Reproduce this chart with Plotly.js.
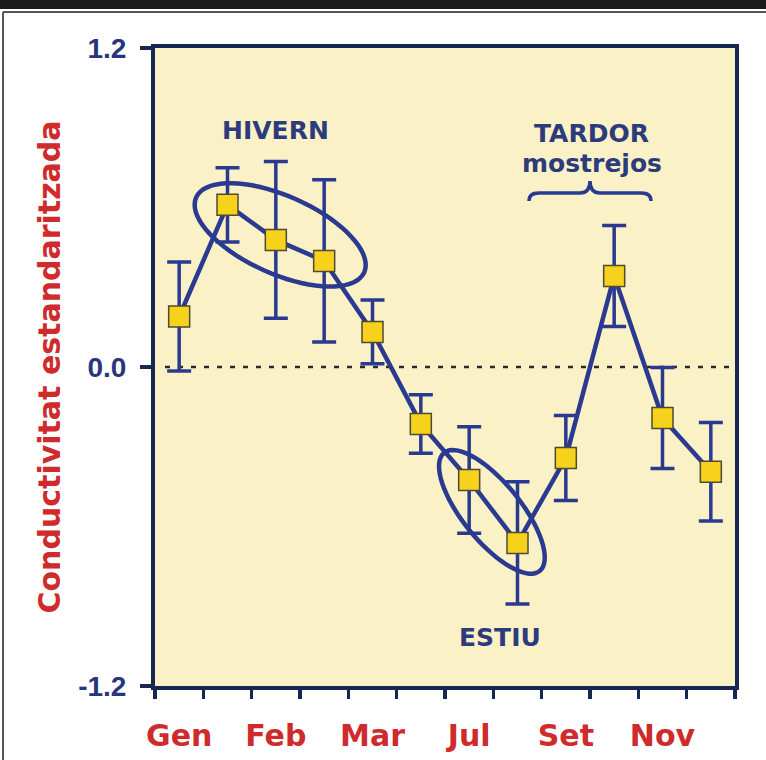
<!DOCTYPE html>
<html>
<head>
<meta charset="utf-8">
<script src="https://cdn.plot.ly/plotly-3.0.1.min.js"></script>
<style>
html,body{margin:0;padding:0;background:#fff;}
#chart{width:766px;height:760px;}
</style>
</head>
<body>
<div id="chart"></div>
<script>
// ---- data ----
const months = [1,2,3,4,5,6,7,8,9,10,11,12];
const conductivity = [0.19, 0.61, 0.478, 0.399, 0.132, -0.214, -0.425, -0.662, -0.342, 0.342, -0.192, -0.394];
const errors = [0.205, 0.14, 0.295, 0.305, 0.12, 0.11, 0.2, 0.23, 0.16, 0.19, 0.19, 0.185];
const tickPositions = [1, 3, 5, 7, 9, 11];
const tickLabels = ['Gen', 'Feb', 'Mar', 'Jul', 'Set', 'Nov'];
const yTicks = [-1.2, 0, 1.2];
const yTickLabels = ['-1.2', '0.0', '1.2'];

// ---- layout geometry ----
const W = 766, H = 760;
const M = {l:155, r:31, t:48, b:74};
const xRange = [0.5, 12.5], yRange = [-1.2, 1.2];
const plotW = W - M.l - M.r, plotH = H - M.t - M.b;
const pxPerX = plotW / (xRange[1]-xRange[0]);
const pxPerY = plotH / (yRange[1]-yRange[0]);

const navy = '#2b3a91';
const axisCol = '#16284f';
const textNavy = '#2c3b7c';
const red = '#cf2a2c';
const wide = '"DejaVu Sans", Verdana, sans-serif';
const arial = '"Liberation Sans", Arial, sans-serif';

// rotated ellipse (center in data units, semi-axes in pixels, angle in degrees, clockwise on screen)
function ellipsePath(cx, cy, a, b, deg){
  const th = deg*Math.PI/180;
  let d = '';
  for(let i=0;i<=72;i++){
    const t = i/72*2*Math.PI;
    const dx = a*Math.cos(t)*Math.cos(th) - b*Math.sin(t)*Math.sin(th);
    const dy = a*Math.cos(t)*Math.sin(th) + b*Math.sin(t)*Math.cos(th);
    const x = cx + dx/pxPerX, y = cy - dy/pxPerY;
    d += (i===0?'M ':' L ') + x.toFixed(4) + ',' + y.toFixed(4);
  }
  return d + ' Z';
}
// curly brace (opening downward), center in data units, sizes in pixels
function bracePath(cx, cy, halfW, arm, tip){
  const P = (px,py)=> (cx+px/pxPerX).toFixed(4)+','+(cy-py/pxPerY).toFixed(4);
  return 'M '+P(-halfW,arm)+' Q '+P(-halfW,0)+' '+P(-halfW+10,0)+
         ' L '+P(-10,0)+' Q '+P(0,0)+' '+P(0,-tip)+
         ' Q '+P(0,0)+' '+P(10,0)+' L '+P(halfW-10,0)+
         ' Q '+P(halfW,0)+' '+P(halfW,arm);
}
const px2paperX = px => (px - M.l)/plotW;
const px2paperY = py => (H - M.b - py)/plotH;

const trace = {
  x: months, y: conductivity,
  type: 'scatter', mode: 'lines+markers',
  line: {color: navy, width: 4.5},
  marker: {symbol: 'square', size: 21, color: '#f6d21c', line: {color: '#4d4a36', width: 1.5}},
  error_y: {type: 'data', array: errors, visible: true, color: navy, thickness: 3.5, width: 12},
  showlegend: false, hoverinfo: 'none'
};

const layout = {
  width: W, height: H,
  margin: M,
  paper_bgcolor: '#ffffff',
  plot_bgcolor: '#fbf1c6',
  font: {family: wide},
  showlegend: false,
  xaxis: {
    range: xRange, fixedrange: true,
    showgrid: false, zeroline: false,
    showline: true, mirror: true, linecolor: axisCol, linewidth: 4,
    tickmode: 'array', tickvals: tickPositions, ticktext: tickLabels,
    ticks: '', ticklabelstandoff: 20,
    tickfont: {size: 30, color: red, family: wide, weight: 'bold'},
    minor: {tick0: 0.5, dtick: 1, ticks: 'outside', ticklen: 9, tickwidth: 3.5, tickcolor: axisCol, showgrid: false}
  },
  yaxis: {
    range: yRange, fixedrange: true,
    showgrid: false, zeroline: false,
    showline: true, mirror: true, linecolor: axisCol, linewidth: 4,
    tickmode: 'array', tickvals: yTicks, ticktext: yTickLabels,
    ticks: 'outside', ticklen: 11, tickwidth: 3.5, tickcolor: axisCol, ticklabelstandoff: 8,
    tickfont: {size: 28, color: '#28357e', family: arial, weight: 'bold'},
    title: {text: 'Conductivitat estandaritzada', standoff: 10,
            font: {size: 30, color: red, family: wide, weight: 'bold'}}
  },
  shapes: [
    // black banner at the top
    {type:'rect', xref:'paper', yref:'paper', x0: px2paperX(0), x1: px2paperX(W), y0: px2paperY(9), y1: px2paperY(0),
     fillcolor:'#1a1a1a', line:{width:0}, layer:'above'},
    // frame lines
    {type:'line', xref:'paper', yref:'paper', x0: px2paperX(3), x1: px2paperX(W), y0: px2paperY(12), y1: px2paperY(12),
     line:{color:'#555', width:2}},
    {type:'line', xref:'paper', yref:'paper', x0: px2paperX(3), x1: px2paperX(3), y0: px2paperY(12), y1: px2paperY(H),
     line:{color:'#555', width:2}},
    // dotted zero line
    {type:'line', xref:'paper', yref:'y', x0: px2paperX(165), x1: 1, y0: 0, y1: 0,
     line:{color:'#2a2a2a', width:2.5, dash:'5px,8px'}, layer:'below'},
    // ellipses
    {type:'path', xref:'x', yref:'y', path: ellipsePath(3.09, 0.497, 92, 39, 24), line:{color: navy, width:4.5}, layer:'above'},
    {type:'path', xref:'x', yref:'y', path: ellipsePath(7.47, -0.545, 76, 29, 51), line:{color: navy, width:4.5}, layer:'above'},
    // brace
    {type:'path', xref:'x', yref:'y', path: bracePath(9.50, 0.655, 61, 8, 12), line:{color: navy, width:3.5}, layer:'above'}
  ],
  annotations: [
    {text:'HIVERN', x: 3.0, y: 0.889, xref:'x', yref:'y', showarrow:false,
     font:{size:25, color:textNavy, family: wide, weight:'bold'}},
    {text:'TARDOR', x: 9.54, y: 0.88, xref:'x', yref:'y', showarrow:false,
     font:{size:25, color:textNavy, family: wide, weight:'bold'}},
    {text:'mostrejos', x: 9.54, y: 0.767, xref:'x', yref:'y', showarrow:false,
     font:{size:25, color:textNavy, family: wide, weight:'bold'}},
    {text:'ESTIU', x: 7.64, y: -1.016, xref:'x', yref:'y', showarrow:false,
     font:{size:25, color:textNavy, family: wide, weight:'bold'}}
  ]
};

Plotly.newPlot('chart', [trace], layout, {staticPlot: true, displayModeBar: false});
</script>
</body>
</html>
